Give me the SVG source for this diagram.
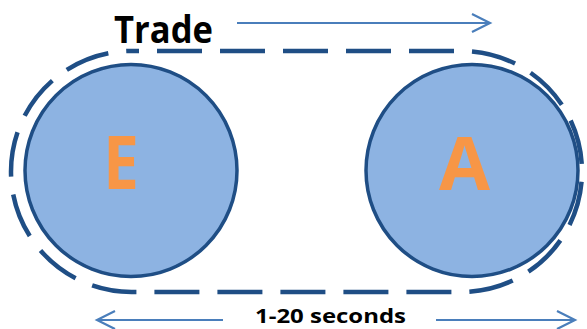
<svg xmlns="http://www.w3.org/2000/svg" width="587" height="329" viewBox="0 0 587 329">
<defs>
<style>
.node circle{fill:#8db3e2;stroke:#1f4e85;stroke-width:3.5}
.letter{font-family:"Open Sans","Liberation Sans",sans-serif;font-weight:700;font-size:74px;fill:#f79646}
.lbl{font-family:"Open Sans","Liberation Sans",sans-serif;font-weight:700;fill:#000}
.arrow{stroke:#4a7ebb;stroke-width:2.2;fill:none}
.loop{fill:none;stroke:#1f4e85;stroke-width:4.5;stroke-dasharray:45 18;stroke-dashoffset:37.5}
</style>
</defs>
<rect width="587" height="329" fill="#fff"/>
<g id="connectors">
<rect class="loop" x="11" y="51" width="571" height="241" rx="120.5" ry="120.5"/>
<path class="arrow" d="M237 23 H489 M472 14 L490 23 L472 32"/>
<path class="arrow" d="M223 320 H98 M115 311 L97 320 L115 329"/>
<path class="arrow" d="M436 320 H573 M557 311 L575 320 L557 329"/>
</g>
<g id="node-E" class="node">
<circle cx="131" cy="170.5" r="106"/>
<text class="letter" x="103" y="189" textLength="36" lengthAdjust="spacingAndGlyphs">E</text>
</g>
<g id="node-A" class="node">
<circle cx="472" cy="170.5" r="106"/>
<text class="letter" x="439" y="190" textLength="51" lengthAdjust="spacingAndGlyphs">A</text>
</g>
<g id="labels">
<text class="lbl" x="114" y="43" font-size="38" textLength="99" lengthAdjust="spacingAndGlyphs">Trade</text>
<text class="lbl" x="255" y="323" font-size="19" textLength="151" lengthAdjust="spacingAndGlyphs">1-20 seconds</text>
</g>
</svg>
